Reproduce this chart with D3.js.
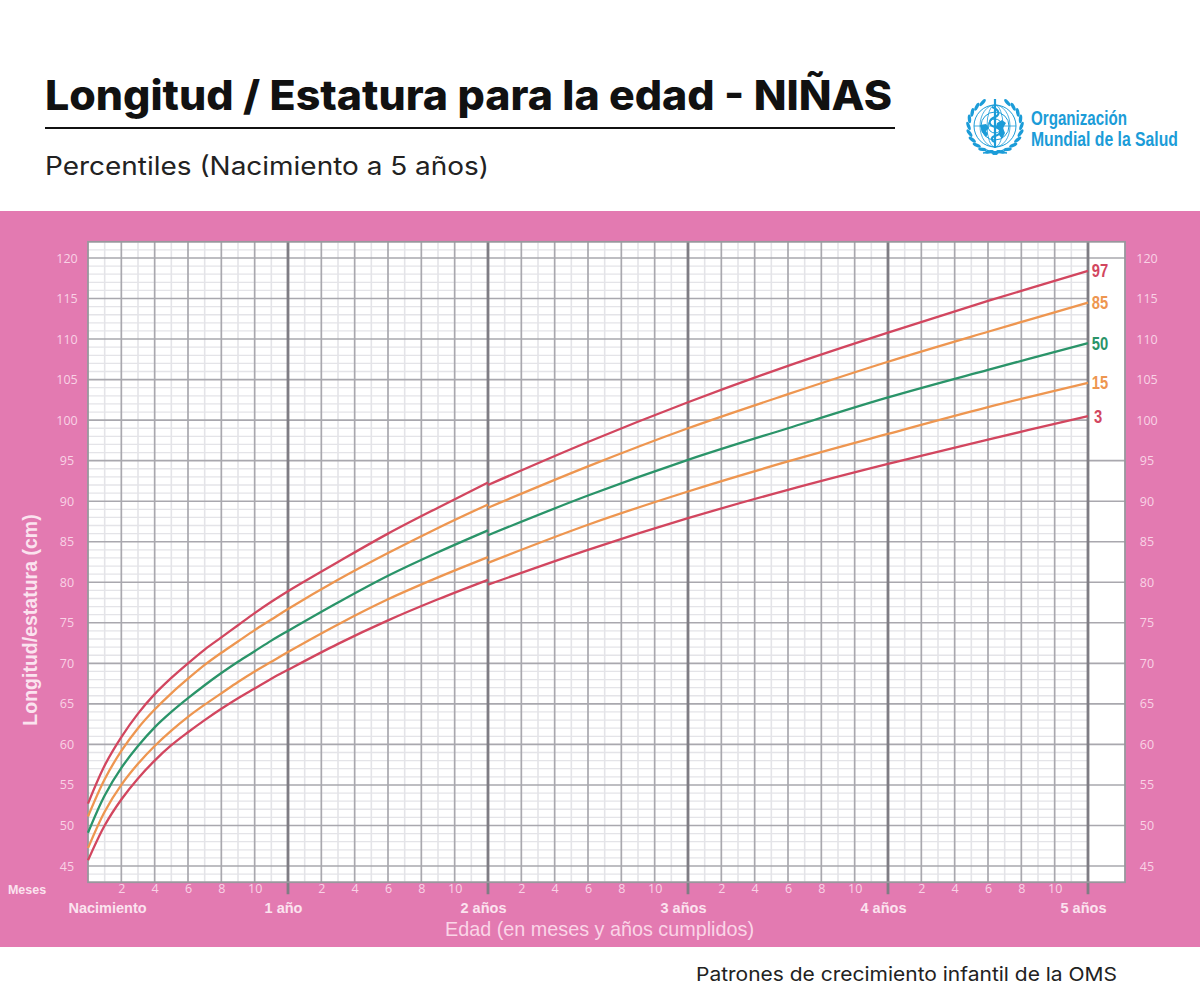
<!DOCTYPE html>
<html lang="es">
<head>
<meta charset="utf-8">
<title>Longitud / Estatura para la edad - NIÑAS</title>
<script src="https://cdn.jsdelivr.net/npm/d3@7"></script>
<style>
  html, body { margin: 0; padding: 0; background: #fff; }
  svg { display: block; }
  text { font-family: "Liberation Sans", Arial, sans-serif; }
  .heading { font-family: Inter, "Open Sans", sans-serif; fill: #111; }
  .axis-label path, .axis-label line { display: none; }
</style>
</head>
<body>
<svg id="chart" width="1200" height="1000" viewBox="0 0 1200 1000"></svg>
<script>
// months, birth to 2 years and 2 to 5 years
const monthsInfant = [0, 1, 2, 3, 4, 5, 6, 7, 8, 9, 10, 11, 12, 15, 18, 21, 24];
const monthsChild = [24, 30, 36, 42, 48, 54, 60];

const p3Infant = [45.7, 50.0, 53.2, 55.8, 58.0, 59.9, 61.5, 63.0, 64.4, 65.7, 66.9, 68.1, 69.2, 72.4, 75.3, 77.9, 80.3];
const p15Infant = [47.2, 51.7, 55.0, 57.6, 59.8, 61.7, 63.4, 64.9, 66.3, 67.7, 69.0, 70.2, 71.4, 74.8, 77.9, 80.6, 83.1];
const p50Infant = [49.1, 53.7, 57.1, 59.8, 62.1, 64.0, 65.7, 67.3, 68.8, 70.2, 71.5, 72.8, 74.0, 77.5, 80.8, 83.7, 86.4];
const p85Infant = [51.1, 55.7, 59.2, 62.0, 64.3, 66.3, 68.1, 69.8, 71.3, 72.7, 74.1, 75.4, 76.7, 80.3, 83.6, 86.7, 89.6];
const p97Infant = [52.7, 57.4, 60.9, 63.8, 66.2, 68.2, 70.0, 71.7, 73.2, 74.7, 76.2, 77.6, 78.9, 82.5, 86.0, 89.2, 92.3];

const p3Child = [79.7, 84.0, 87.9, 91.4, 94.6, 97.6, 100.5];
const p15Child = [82.4, 87.1, 91.2, 94.9, 98.3, 101.6, 104.6];
const p50Child = [85.8, 90.7, 95.1, 99.0, 102.8, 106.2, 109.5];
const p85Child = [89.2, 94.3, 99.0, 103.2, 107.2, 110.9, 114.5];
const p97Child = [92.0, 97.3, 102.2, 106.7, 110.8, 114.7, 118.4];

const percentiles = ["3", "15", "50", "85", "97"];
const infantValues = [p3Infant, p15Infant, p50Infant, p85Infant, p97Infant];
const childValues = [p3Child, p15Child, p50Child, p85Child, p97Child];

const yTicks = [45, 50, 55, 60, 65, 70, 75, 80, 85, 90, 95, 100, 105, 110, 115, 120];
const yearTicks = [12, 24, 36, 48, 60];
const yearLabels = ["1 año", "2 años", "3 años", "4 años", "5 años"];
const marginLines = [45, 50, 55, 60, 65, 70, 75, 80, 85, 90, 95, 120];

const colorOf = { "3": "#d2465f", "15": "#ee9650", "50": "#2a9469", "85": "#ee9650", "97": "#d2465f" };

const svg = d3.select("#chart");

// the reference is a soft, slightly blurred image
svg.append("defs").append("filter").attr("id", "soft")
  .append("feGaussianBlur").attr("stdDeviation", 0.45);

const xScale = d3.scaleLinear().domain([0, 62.22]).range([88, 1125]);
const yScale = d3.scaleLinear().domain([45, 120]).range([866, 258]);
const plotTop = yScale(122), plotBottom = yScale(43);
const plotLeft = xScale(0), plotRight = xScale(62.22), plotEnd = xScale(60);

// header
svg.append("text").attr("class", "heading")
  .attr("x", 45).attr("y", 110)
  .attr("textLength", 847).attr("lengthAdjust", "spacingAndGlyphs")
  .attr("font-size", 41).attr("font-weight", 800)
  .text("Longitud / Estatura para la edad - NIÑAS");

svg.append("line")
  .attr("x1", 45).attr("x2", 895).attr("y1", 128).attr("y2", 128)
  .attr("stroke", "#111").attr("stroke-width", 2);

svg.append("text").attr("class", "heading")
  .attr("x", 45).attr("y", 175)
  .attr("textLength", 444).attr("lengthAdjust", "spacingAndGlyphs")
  .attr("font-size", 25).attr("font-weight", 400).style("fill", "#222")
  .text("Percentiles (Nacimiento a 5 años)");

svg.append("text").attr("class", "heading")
  .attr("x", 696).attr("y", 981)
  .attr("textLength", 421).attr("lengthAdjust", "spacingAndGlyphs")
  .attr("font-size", 19).attr("font-weight", 400).style("fill", "#222")
  .text("Patrones de crecimiento infantil de la OMS");

// WHO emblem, rough drawing
const blue = "#1b9cd8";
const logo = svg.append("g").attr("transform", "translate(995,126)")
  .attr("fill", "none").attr("stroke", blue);
[7, 14, 21].forEach(r => logo.append("circle").attr("r", r).attr("stroke-width", 1));
[8, 15].forEach(rx => logo.append("ellipse").attr("rx", rx).attr("ry", 21).attr("stroke-width", 0.8));
logo.append("line").attr("x1", -21).attr("x2", 21).attr("stroke-width", 0.8);
logo.append("path").attr("fill", blue).attr("stroke", "none")
  .attr("d", "M-15,-1 L-9,-2 L-6,2 L-9,5 L-7,8 L-9,11 L-13,6 Z M2,-3 L7,-6 L11,-3 L8,2 L10,7 L7,13 L4,9 L5,3 L1,1 Z");
logo.append("line").attr("y1", -27).attr("y2", 22).attr("stroke-width", 2.2);
logo.append("path").attr("stroke-width", 2)
  .attr("d", "M-3,-19 C5,-16 5,-11 0,-9 C-7,-6 -7,-1 0,1 C7,3 7,8 0,10 C-4,11 -4,14 -1,16");
d3.range(0, 11).forEach(i => {
  const a = (-62 + i * 15.5) * Math.PI / 180;
  [-1, 1].forEach(side => {
    logo.append("ellipse")
      .attr("transform", `translate(${side * 26.5 * Math.cos(a)},${26.5 * Math.sin(a)}) rotate(${side * (a * 180 / Math.PI + 20)})`)
      .attr("rx", 1.7).attr("ry", 4.4)
      .attr("fill", blue).attr("stroke", "none");
  });
});
logo.append("path").attr("stroke-width", 1.5).attr("d", "M-12,27 Q0,25 12,27 M-8,24 Q0,30 8,24");

// squeeze the condensed logo lettering with a scale so its box stays true
function logoText(label, y, width) {
  const t = svg.append("text")
    .attr("font-size", 21).attr("font-weight", 700).attr("fill", blue)
    .text(label);
  const k = width / t.node().getComputedTextLength();
  t.attr("transform", `translate(1031,${y}) scale(${k},1)`);
}
logoText("Organización", 125, 96);
logoText("Mundial de la Salud", 146, 147);

// pink panel and white plot
svg.append("rect").attr("x", 0).attr("y", 211).attr("width", 1200).attr("height", 736).attr("fill", "#e37ab1");
svg.append("rect").attr("x", plotLeft).attr("y", plotTop).attr("width", plotRight - plotLeft).attr("height", plotBottom - plotTop).attr("fill", "#fff");

// grid
const grid = svg.append("g").attr("filter", "url(#soft)");
const minorY = d3.range(43, 123).filter(d => d % 5 !== 0);
const minorX = d3.range(1, 60, 2);
const majorX = d3.range(2, 60, 2).filter(d => d % 12 !== 0);

grid.append("g").selectAll("line").data(minorY).join("line")
  .attr("x1", plotLeft).attr("x2", plotEnd)
  .attr("y1", d => yScale(d)).attr("y2", d => yScale(d))
  .attr("stroke", "#e4e4e8").attr("stroke-width", 1.3);

grid.append("g").selectAll("line").data(minorX).join("line")
  .attr("x1", d => xScale(d)).attr("x2", d => xScale(d))
  .attr("y1", plotTop).attr("y2", plotBottom)
  .attr("stroke", "#e4e4e8").attr("stroke-width", 1.6);

grid.append("g").selectAll("line").data(majorX).join("line")
  .attr("x1", d => xScale(d)).attr("x2", d => xScale(d))
  .attr("y1", plotTop).attr("y2", plotBottom)
  .attr("stroke", "#a9a8ae").attr("stroke-width", 1.7);

grid.append("g").selectAll("line").data(yTicks).join("line")
  .attr("x1", plotLeft).attr("x2", plotEnd)
  .attr("y1", d => yScale(d)).attr("y2", d => yScale(d))
  .attr("stroke", "#a9a8ae").attr("stroke-width", 1.6);

grid.append("g").selectAll("line").data(marginLines).join("line")
  .attr("x1", plotEnd).attr("x2", plotRight)
  .attr("y1", d => yScale(d)).attr("y2", d => yScale(d))
  .attr("stroke", "#a9a8ae").attr("stroke-width", 1.6);

grid.append("g").selectAll("line").data(yearTicks).join("line")
  .attr("x1", d => xScale(d)).attr("x2", d => xScale(d))
  .attr("y1", plotTop).attr("y2", plotBottom + 12)
  .attr("stroke", "#7f7d84").attr("stroke-width", 2.8);

grid.append("rect").attr("x", plotLeft).attr("y", plotTop).attr("width", plotRight - plotLeft).attr("height", plotBottom - plotTop)
  .attr("fill", "none").attr("stroke", "#98979d").attr("stroke-width", 1.8);

// axes
const smallLabels = g => g.selectAll("text")
  .attr("font-size", 12.5).attr("fill", "#f9d3e6").style("font-family", "'Open Sans', sans-serif");

svg.append("g").attr("class", "axis-label")
  .attr("transform", `translate(${plotLeft},0)`)
  .call(d3.axisLeft(yScale).tickValues(yTicks).tickSize(0))
  .call(smallLabels)
  .call(g => g.selectAll("text").attr("x", -21).attr("text-anchor", "middle"));

svg.append("g").attr("class", "axis-label")
  .attr("transform", `translate(${plotRight},0)`)
  .call(d3.axisRight(yScale).tickValues(yTicks).tickSize(0))
  .call(smallLabels)
  .call(g => g.selectAll("text").attr("x", 22).attr("text-anchor", "middle"));

svg.append("g").attr("class", "axis-label")
  .attr("transform", `translate(0,${plotBottom})`)
  .call(d3.axisBottom(xScale).tickValues(majorX).tickFormat(d => d % 12).tickSize(0).tickPadding(2))
  .call(smallLabels);

svg.append("g").attr("class", "axis-label")
  .attr("transform", `translate(-5,${plotBottom})`)
  .call(d3.axisBottom(xScale).tickValues(yearTicks)
    .tickFormat((d, i) => yearLabels[i]).tickSize(0).tickPadding(21))
  .call(g => g.selectAll("text").attr("font-size", 14.5).attr("font-weight", 700).attr("fill", "#fbe3ef").style("font-family", "'Liberation Sans', sans-serif"));

svg.append("text").attr("x", 107.5).attr("y", 913).attr("text-anchor", "middle")
  .attr("font-size", 14.5).attr("font-weight", 700).attr("fill", "#fbe3ef")
  .text("Nacimiento");

svg.append("text").attr("x", 27).attr("y", 894).attr("text-anchor", "middle")
  .attr("font-size", 12.5).attr("font-weight", 700).attr("fill", "#fbe3ef")
  .text("Meses");

svg.append("text").attr("x", 599.5).attr("y", 936).attr("text-anchor", "middle")
  .attr("font-size", 19.8).attr("fill", "#fad5e7")
  .text("Edad (en meses y años cumplidos)");

svg.append("text")
  .attr("transform", "translate(37,620) rotate(-90)").attr("text-anchor", "middle")
  .attr("font-size", 19.5).attr("font-weight", 700).attr("fill", "#fbe3ef")
  .text("Longitud/estatura (cm)");

// curves
const line = d3.line().x(d => xScale(d[0])).y(d => yScale(d[1])).curve(d3.curveCatmullRom.alpha(0.5));

percentiles.forEach((p, i) => {
  [[monthsInfant, infantValues[i]], [monthsChild, childValues[i]]].forEach(([months, values]) => {
    svg.append("path")
      .attr("d", line(months.map((m, k) => [m, values[k]])))
      .attr("fill", "none")
      .attr("stroke", colorOf[p])
      .attr("stroke-width", 2.3);
  });

  const labelX = plotEnd + (p === "3" ? 10 : 12);
  svg.append("text")
    .attr("transform", `translate(${labelX},${yScale(childValues[i][6])}) scale(0.82,1)`)
    .attr("dy", "0.36em")
    .attr("text-anchor", "middle")
    .attr("font-size", 18).attr("font-weight", 700)
    .attr("fill", colorOf[p])
    .text(p);
});
</script>
</body>
</html>
